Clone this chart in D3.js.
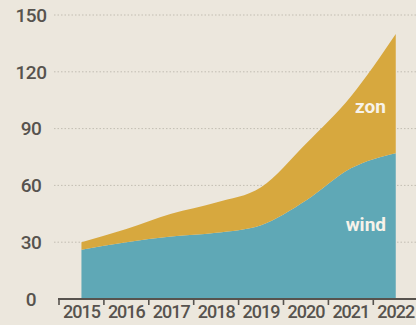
<!DOCTYPE html>
<html>
<head>
<meta charset="utf-8">
<script src="https://cdn.jsdelivr.net/npm/d3@7"></script>
<style>
html,body{margin:0;padding:0;background:#ece7dd;}
svg{display:block;}
</style>
</head>
<body>
<svg id="chart" width="416" height="325"></svg>
<script>
const years = ["2015","2016","2017","2018","2019","2020","2021","2022"];
const wind = [26, 30, 33, 35, 39, 52, 69, 77];
const zon  = [4, 7, 12, 16, 20, 30, 38, 63];
const yTicks = [0, 30, 60, 90, 120, 150];
const seriesKeys = ["wind", "zon"];
const seriesLabels = ["wind", "zon"];
const colors = ["#5fa8b6", "#d7a83e"];

const rows = years.map((yr, i) => ({year: yr, wind: wind[i], zon: zon[i]}));

const svg = d3.select("#chart");
const W = 416, H = 325;
svg.append("rect").attr("width", W).attr("height", H).attr("fill", "#ece7dd");

const x = d3.scaleBand().domain(years).range([59, 418.2]).padding(0);
const y = d3.scaleLinear().domain([0, 150]).range([299, 15]);
const cx = d => x(d) + x.bandwidth() / 2;

// gridlines
svg.append("g").selectAll("line").data(yTicks.filter(t => t > 0)).join("line")
  .attr("x1", 54).attr("x2", W)
  .attr("y1", d => y(d)).attr("y2", d => y(d))
  .attr("stroke", "#c2bdb2").attr("stroke-width", 1)
  .attr("stroke-dasharray", "1.5,2");

// y labels
svg.append("g").selectAll("text").data(yTicks).join("text")
  .attr("x", 31).attr("y", d => y(d))
  .attr("dy", "0.36em")
  .attr("text-anchor", "middle")
  .attr("font-family", "Roboto, sans-serif")
  .attr("font-weight", 500)
  .attr("font-size", 19)
  .attr("letter-spacing", "-0.5px")
  .attr("fill", "#57534e")
  .text(d => d);

// stacked areas
const stacked = d3.stack().keys(seriesKeys)(rows);
const area = d3.area()
  .x(d => cx(d.data.year))
  .y0(d => y(d[0]))
  .y1(d => y(d[1]))
  .curve(d3.curveMonotoneX);

svg.append("g").selectAll("path").data(stacked).join("path")
  .attr("d", area)
  .attr("fill", (d, i) => colors[i]);

// series labels
const labelPos = [{x: 386, v: 36}, {x: 386, v: 98}];
svg.append("g").selectAll("text").data(seriesLabels).join("text")
  .attr("x", (d, i) => labelPos[i].x)
  .attr("y", (d, i) => y(labelPos[i].v))
  .attr("text-anchor", "end")
  .attr("font-family", "Roboto, sans-serif")
  .attr("font-weight", 700)
  .attr("font-size", 19)
  .attr("fill", "#f7f3ea")
  .text(d => d);

// x axis
const ax = svg.append("g");
ax.append("line")
  .attr("x1", 58).attr("x2", W)
  .attr("y1", 299).attr("y2", 299)
  .attr("stroke", "#57534e").attr("stroke-width", 2);
ax.selectAll("line.tick").data(years).join("line")
  .attr("class", "tick")
  .attr("x1", d => x(d)).attr("x2", d => x(d))
  .attr("y1", 299).attr("y2", 305)
  .attr("stroke", "#57534e").attr("stroke-width", 1.6);
ax.selectAll("text").data(years).join("text")
  .attr("x", d => cx(d)).attr("y", 318)
  .attr("text-anchor", "middle")
  .attr("font-family", "Roboto, sans-serif")
  .attr("font-weight", 500)
  .attr("font-size", 18)
  .attr("letter-spacing", "-1px")
  .attr("fill", "#57534e")
  .text(d => d);
</script>
</body>
</html>
